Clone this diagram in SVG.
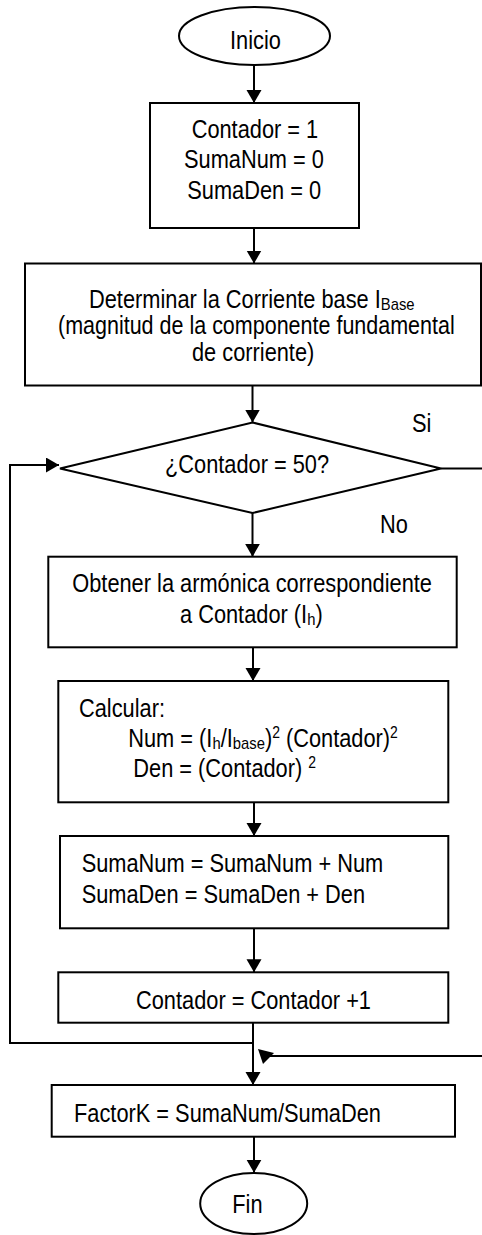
<svg xmlns="http://www.w3.org/2000/svg" width="482" height="1235" viewBox="0 0 482 1235">
<style>
.shape{fill:#fff;stroke:#000;stroke-width:2}
.conn{fill:none;stroke:#000;stroke-width:2}
text{font-family:"Liberation Sans",Arial,sans-serif;font-size:25px;fill:#000}
.sub{font-size:17px}
.sup{font-size:16px}
</style>
<defs>
<marker id="arr" markerUnits="userSpaceOnUse" markerWidth="14" markerHeight="16" refX="13" refY="7.5" orient="auto">
<path d="M0,0 L13,7.5 L0,15 z" fill="#000"/>
</marker>
</defs>
<rect width="482" height="1235" fill="#fff"/>
<g id="connectors">
<line class="conn" x1="254" y1="65" x2="254" y2="103" marker-end="url(#arr)"/>
<line class="conn" x1="254" y1="228" x2="254" y2="263.5" marker-end="url(#arr)"/>
<line class="conn" x1="252.5" y1="385.5" x2="252.5" y2="422.5" marker-end="url(#arr)"/>
<line class="conn" x1="252.5" y1="513" x2="252.5" y2="556.7" marker-end="url(#arr)"/>
<line class="conn" x1="253" y1="647.3" x2="253" y2="681" marker-end="url(#arr)"/>
<line class="conn" x1="254" y1="802.3" x2="254" y2="836" marker-end="url(#arr)"/>
<line class="conn" x1="254" y1="928.3" x2="254" y2="972.3" marker-end="url(#arr)"/>
<line class="conn" x1="253" y1="1022.7" x2="253" y2="1085" marker-end="url(#arr)"/>
<line class="conn" x1="254" y1="1136.7" x2="254" y2="1172.7" marker-end="url(#arr)"/>
<polyline class="conn" points="253,1043 10,1043 10,465 59,465" marker-end="url(#arr)"/>
<line class="conn" x1="441" y1="468.5" x2="482" y2="468.5"/>
<line class="conn" x1="482" y1="1056" x2="268" y2="1056"/>
<polygon points="258,1049 274,1053 263,1064" fill="#000"/>
</g>
<g id="inicio">
<ellipse class="shape" cx="254.5" cy="36" rx="75.5" ry="29"/>
</g>
<g id="init">
<rect class="shape" x="150" y="103" width="209" height="125"/>
</g>
<g id="base">
<rect class="shape" x="25" y="263.5" width="456" height="122"/>
</g>
<g id="decision">
<polygon class="shape" points="252.5,422.5 441,468.5 252.5,513 60,468.5"/>
</g>
<g id="armonica">
<rect class="shape" x="48.3" y="556.7" width="408.4" height="90.6"/>
</g>
<g id="calcular">
<rect class="shape" x="58.3" y="681" width="390" height="121.3"/>
</g>
<g id="sumas">
<rect class="shape" x="60" y="836" width="388.3" height="92.3"/>
</g>
<g id="incremento">
<rect class="shape" x="58.3" y="972.3" width="390" height="50.4"/>
</g>
<g id="factork">
<rect class="shape" x="51.7" y="1085" width="403.3" height="51.7"/>
</g>
<g id="fin">
<ellipse class="shape" cx="253.7" cy="1203.5" rx="53.5" ry="30.5"/>
</g>
<g id="labels" transform="scale(0.872 1)">
<text x="263.8" y="49">Inicio</text>
<text x="219.8" y="138">Contador = 1</text>
<text x="211" y="168">SumaNum = 0</text>
<text x="214.8" y="199">SumaDen = 0</text>
<text x="102.1" y="308">Determinar la Corriente base I<tspan class="sub" dy="2">Base</tspan></text>
<text x="66.5" y="334" textLength="455" lengthAdjust="spacingAndGlyphs">(magnitud de la componente fundamental</text>
<text x="220.2" y="361">de corriente)</text>
<text x="189.2" y="473">¿Contador = 50?</text>
<text x="472.5" y="432">Si</text>
<text x="435.8" y="533">No</text>
<text x="82.9" y="591.7">Obtener la armónica correspondiente</text>
<text x="206.4" y="622.7">a Contador (I<tspan class="sub" dy="2">h</tspan><tspan dy="-2">)</tspan></text>
<text x="90.6" y="716.7">Calcular:</text>
<text x="147.1" y="746.7">Num = (I<tspan class="sub" dy="2">h</tspan><tspan dy="-2">/I</tspan><tspan class="sub" dy="2">base</tspan><tspan dy="-2">)</tspan><tspan class="sup" dy="-9">2</tspan><tspan dy="9"> (Contador)</tspan><tspan class="sup" dy="-9">2</tspan></text>
<text x="152.9" y="777">Den = (Contador) <tspan class="sup" dy="-9">2</tspan></text>
<text x="93.7" y="871.7">SumaNum = SumaNum + Num</text>
<text x="93.7" y="902.7">SumaDen = SumaDen + Den</text>
<text x="156" y="1009">Contador = Contador +1</text>
<text x="84.9" y="1121.7">FactorK = SumaNum/SumaDen</text>
<text x="266.4" y="1213">Fin</text>
</g>
</svg>
